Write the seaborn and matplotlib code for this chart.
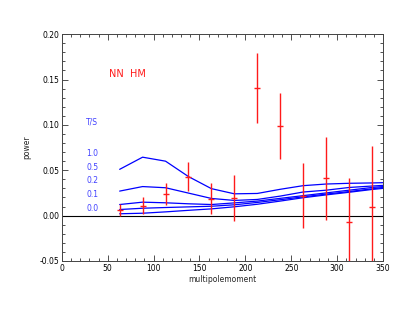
import matplotlib
matplotlib.use('Agg')
import matplotlib.pyplot as plt
from matplotlib.ticker import MultipleLocator
import seaborn as sns
import pandas as pd

# model curves (T/S ratios)
ell_model = [63, 88, 113, 138, 163, 188, 213, 238, 263, 288, 313, 338, 350]
ts_labels = ['1.0', '0.5', '0.2', '0.1', '0.0']
ts_10 = [0.051, 0.0644, 0.060, 0.043, 0.0297, 0.024, 0.0244, 0.029, 0.033, 0.0348, 0.0356, 0.036, 0.0363]
ts_05 = [0.027, 0.032, 0.0307, 0.0248, 0.0189, 0.0167, 0.0178, 0.0215, 0.026, 0.028, 0.031, 0.0326, 0.0333]
ts_02 = [0.0122, 0.0148, 0.0141, 0.013, 0.0122, 0.014, 0.016, 0.019, 0.022, 0.025, 0.028, 0.031, 0.032]
ts_01 = [0.0067, 0.0081, 0.0089, 0.0096, 0.0103, 0.0119, 0.0145, 0.0175, 0.0207, 0.0237, 0.0265, 0.0295, 0.031]
ts_00 = [0.002, 0.0026, 0.0041, 0.0058, 0.0074, 0.0097, 0.0125, 0.016, 0.0197, 0.0228, 0.0257, 0.0288, 0.030]

# measured band powers
ell_data = [63, 88, 113, 138, 163, 188, 213, 238, 263, 288, 313, 338]
power = [0.0065, 0.011, 0.0237, 0.0426, 0.0185, 0.019, 0.1405, 0.099, 0.022, 0.041, -0.0074, 0.0096]
power_err = [0.0068, 0.009, 0.0125, 0.016, 0.017, 0.0255, 0.0385, 0.0365, 0.036, 0.046, 0.049, 0.067]

sns.set_style('ticks')
plt.rcParams['font.family'] = ['DejaVu Sans']
plt.rcParams['xtick.direction'] = 'in'
plt.rcParams['ytick.direction'] = 'in'

rows = []
for lab, vals in zip(ts_labels, [ts_10, ts_05, ts_02, ts_01, ts_00]):
    for x, y in zip(ell_model, vals):
        rows.append({'ell': x, 'power': y, 'TS': lab})
df = pd.DataFrame(rows)

fig = plt.figure(figsize=(4.15, 3.11), dpi=100)
ax = fig.add_axes([0.149, 0.161, 0.774, 0.729])

ax.axhline(0, color='black', lw=0.8, zorder=1)
sns.lineplot(data=df, x='ell', y='power', hue='TS', palette=['#0000ff'] * 5,
             lw=0.9, legend=False, ax=ax, sort=True, estimator=None)
ax.errorbar(ell_data, power, yerr=power_err, fmt='none', ecolor='#ff1a1a',
            elinewidth=1.0, capsize=0, zorder=3)
ax.plot(ell_data, power, ls='none', marker='_', ms=5, mew=1.0, color='#ff1a1a', zorder=3)

ax.set_xlim(0, 350)
ax.set_ylim(-0.05, 0.20)
ax.xaxis.set_major_locator(MultipleLocator(50))
ax.xaxis.set_minor_locator(MultipleLocator(10))
ax.yaxis.set_major_locator(MultipleLocator(0.05))
ax.yaxis.set_minor_locator(MultipleLocator(0.01))
ax.yaxis.set_major_formatter(matplotlib.ticker.FormatStrFormatter('%.2f'))
ax.tick_params(which='both', top=True, right=True, labelsize=5.5, colors='#333333',
               labelcolor='black', width=0.6, pad=2)
ax.tick_params(which='major', length=4)
ax.tick_params(which='minor', length=2)
for s in ax.spines.values():
    s.set_linewidth(0.7)
    s.set_color('#444444')

ax.set_xlabel('multipolemoment', fontsize=5.5, labelpad=2)
ax.set_ylabel('power', fontsize=5.5, labelpad=6)

ax.text(51, 0.1559, 'NN  HM', color='#ff1a1a', fontsize=7, va='center', ha='left')
ax.text(26.5, 0.1037, 'T/S', color='#4040ff', fontsize=5.5, va='center', ha='left')
for i, lab in enumerate(ts_labels):
    ax.text(26.5, 0.0686 - i * 0.0152, lab, color='#4040ff', fontsize=5.5, va='center', ha='left')

fig.savefig('out.png', dpi=100)
